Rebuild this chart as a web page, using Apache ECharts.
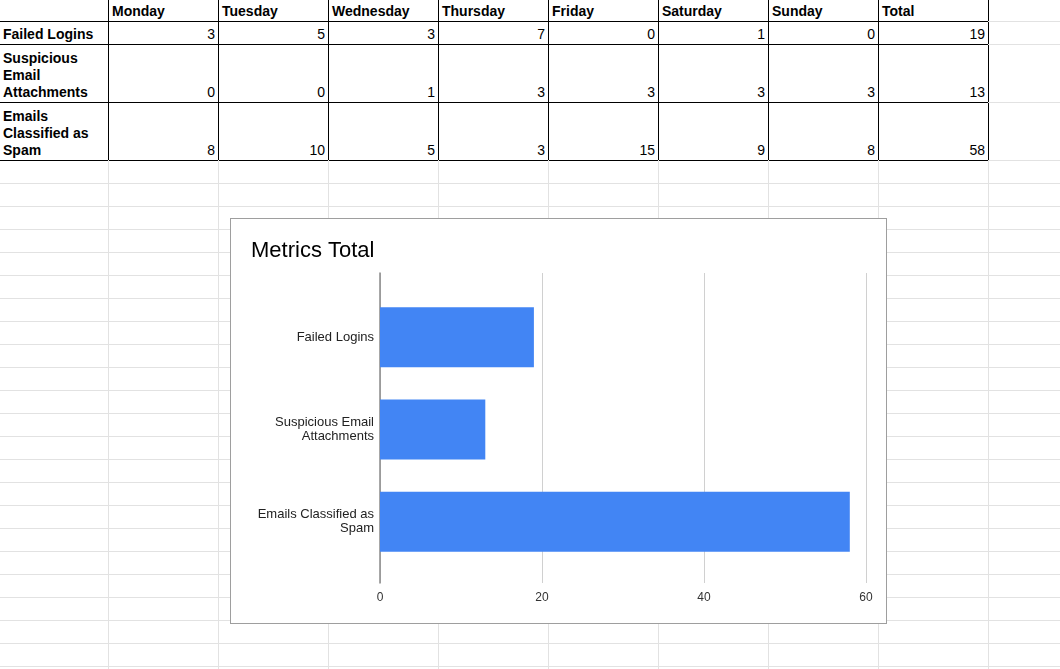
<!DOCTYPE html>
<html>
<head>
<meta charset="utf-8">
<script src="https://cdn.jsdelivr.net/npm/echarts@6/dist/echarts.min.js"></script>
<style>
  html, body { margin: 0; padding: 0; background: #fff; }
  #sheet { position: absolute; left: 0; top: 0; width: 1060px; height: 669px; overflow: hidden; background: #fff;
           font-family: "Liberation Sans", Arial, sans-serif; font-size: 14px; color: #000; }
  .ln { position: absolute; }
  .cell { position: absolute; box-sizing: border-box; display: flex; align-items: flex-end;
          padding: 0 3px 1px 3px; line-height: 17px; }
  .hdr { font-weight: bold; justify-content: flex-start; }
  .num { justify-content: flex-end; }
  #chartBox { position: absolute; left: 230px; top: 218px; width: 657px; height: 406px; box-sizing: border-box;
              border: 1px solid #9e9e9e; background: #fff; }
  #chart { position: absolute; left: 0; top: 0; width: 655px; height: 404px; }
</style>
</head>
<body>
<div id="sheet">
  <div id="chartBox"><div id="chart"></div></div>
</div>
<script>
// ---- data ----
const days = ['Monday', 'Tuesday', 'Wednesday', 'Thursday', 'Friday', 'Saturday', 'Sunday'];
const totalLabel = 'Total';
const metrics = ['Failed Logins', 'Suspicious Email Attachments', 'Emails Classified as Spam'];
const failedLogins = [3, 5, 3, 7, 0, 1, 0];
const suspiciousAttachments = [0, 0, 1, 3, 3, 3, 3];
const spamEmails = [8, 10, 5, 3, 15, 9, 8];
const totals = [19, 13, 58];
const chartTitle = 'Metrics Total';
const xTicks = [0, 20, 40, 60];

// ---- spreadsheet layout ----
const sheet = document.getElementById('sheet');
const colX = [0, 108, 218, 328, 438, 548, 658, 768, 878, 988];
const rowY = [0, 21, 44, 102, 160];
const W = 1060, H = 669;

function line(x, y, w, h, color) {
  const d = document.createElement('div');
  d.className = 'ln';
  d.style.left = x + 'px'; d.style.top = y + 'px';
  d.style.width = w + 'px'; d.style.height = h + 'px';
  d.style.background = color;
  sheet.insertBefore(d, sheet.firstChild);
}
const grey = '#e2e2e2';
for (let y = 183; y < H; y += 23) line(0, y, W, 1, grey);
for (let i = 1; i < colX.length; i++) line(colX[i], 160, 1, H - 160, grey);
for (let i = 1; i < rowY.length; i++) line(988, rowY[i], W - 988, 1, grey);
for (let i = 1; i < rowY.length; i++) line(0, rowY[i], 989, 1, '#000');
for (let i = 1; i < colX.length; i++) line(colX[i], 0, 1, 161, '#000');

function cell(c, r, text, cls) {
  const d = document.createElement('div');
  d.className = 'cell ' + cls;
  d.style.left = (colX[c] + (c > 0 ? 1 : 0)) + 'px';
  d.style.top = (rowY[r] + (r > 0 ? 1 : 0)) + 'px';
  d.style.width = (colX[c + 1] - colX[c] - (c > 0 ? 1 : 0)) + 'px';
  d.style.height = (rowY[r + 1] - rowY[r] - (r > 0 ? 1 : 0)) + 'px';
  d.textContent = text;
  sheet.appendChild(d);
}
const headers = days.concat([totalLabel]);
headers.forEach((h, i) => cell(i + 1, 0, h, 'hdr'));
const rows = [failedLogins, suspiciousAttachments, spamEmails];
metrics.forEach((m, r) => {
  cell(0, r + 1, m, 'hdr');
  rows[r].forEach((v, i) => cell(i + 1, r + 1, String(v), 'num'));
  cell(8, r + 1, String(totals[r]), 'num');
});

// ---- chart ----
const font = '"Liberation Sans", Arial, sans-serif';
const measureCtx = document.createElement('canvas').getContext('2d');
measureCtx.font = '13px ' + font;
function wrapLabel(text) {
  const words = text.split(' ');
  const lines = [];
  let cur = '';
  words.forEach(w => {
    const t = cur ? cur + ' ' + w : w;
    if (cur && measureCtx.measureText(t).width > 120) { lines.push(cur); cur = w; }
    else cur = t;
  });
  if (cur) lines.push(cur);
  return lines.join('\n');
}

const chart = echarts.init(document.getElementById('chart'), null, { renderer: 'canvas' });
chart.setOption({
  animation: false,
  backgroundColor: '#fff',
  title: {
    text: chartTitle, left: 20, top: 21, padding: 0,
    textStyle: { fontFamily: font, fontSize: 22, fontWeight: 'normal', color: '#000' }
  },
  grid: [
    { left: 149, right: 20, top: 54, bottom: 40 },
    { left: 149, right: 20, top: 72, bottom: 55 }
  ],
  xAxis: [
    {
      gridIndex: 0, type: 'value', min: xTicks[0], max: xTicks[xTicks.length - 1], interval: 20,
      axisLine: { show: false }, axisTick: { show: false },
      axisLabel: { margin: 9, fontFamily: font, fontSize: 12, color: '#333' },
      splitLine: { show: true, lineStyle: { color: '#d0d0d0', width: 1 } }
    },
    {
      gridIndex: 1, type: 'value', min: xTicks[0], max: xTicks[xTicks.length - 1],
      show: false, splitLine: { show: false }
    }
  ],
  yAxis: [
    {
      gridIndex: 0, type: 'value', min: 0, max: 1,
      axisLine: { show: true, onZero: false, lineStyle: { color: '#8a8a8a', width: 1.5 } },
      axisTick: { show: false }, axisLabel: { show: false }, splitLine: { show: false }
    },
    {
      gridIndex: 1, type: 'category', data: metrics, inverse: true,
      axisLine: { show: false }, axisTick: { show: false }, splitLine: { show: false },
      axisLabel: {
        margin: 6, fontFamily: font, fontSize: 13, color: '#222', lineHeight: 14,
        align: 'right', formatter: wrapLabel
      }
    }
  ],
  series: [{
    type: 'bar', xAxisIndex: 1, yAxisIndex: 1, data: totals,
    barCategoryGap: '35%',
    itemStyle: { color: '#4285f4' }
  }]
});
</script>
</body>
</html>
